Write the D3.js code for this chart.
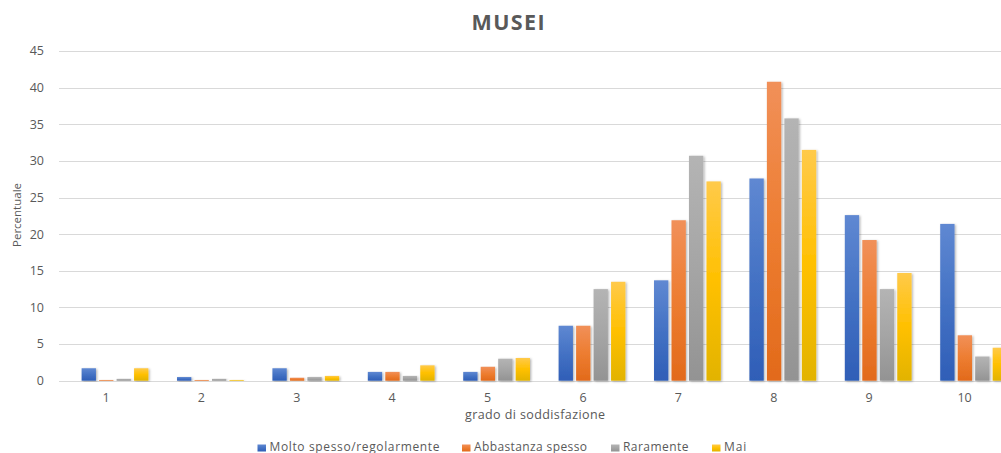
<!DOCTYPE html>
<html><head><meta charset="utf-8">
<script src="https://cdn.jsdelivr.net/npm/d3@7"></script>
<style>body{margin:0;background:#fff;} svg{display:block;font-family:"Open Sans","Liberation Sans",sans-serif;}</style>
</head><body>
<svg id="c" width="1001" height="453"></svg>
<script>
const categories = ["1","2","3","4","5","6","7","8","9","10"];
const seriesNames = ["Molto spesso/regolarmente","Abbastanza spesso","Raramente","Mai"];
const molto = [1.7, 0.5, 1.7, 1.2, 1.2, 7.5, 13.7, 27.6, 22.6, 21.4];
const abbastanza = [0.1, 0.1, 0.4, 1.2, 1.9, 7.5, 21.9, 40.8, 19.2, 6.2];
const raramente = [0.25, 0.25, 0.5, 0.65, 3.0, 12.5, 30.7, 35.8, 12.5, 3.3];
const mai = [1.7, 0.1, 0.65, 2.1, 3.1, 13.5, 27.2, 31.5, 14.7, 4.5];
const yTicks = [0,5,10,15,20,25,30,35,40,45];
const seriesValues = [molto, abbastanza, raramente, mai];
const colors = ["#4472C4","#ED7D31","#A5A5A5","#FFC000"];
const topCols = ["#5f88d2","#f19059","#b4b4b4","#ffca4a"];
const botCols = ["#2f5eb7","#e26a1b","#939393","#e2b300"];

const svg = d3.select("#c");
const defs = svg.append("defs");
colors.forEach((c,i)=>{
  const g = defs.append("linearGradient").attr("id","g"+i).attr("x1",0).attr("y1",0).attr("x2",0).attr("y2",1);
  g.append("stop").attr("offset","0%").attr("stop-color",topCols[i]);
  g.append("stop").attr("offset","50%").attr("stop-color",c);
  g.append("stop").attr("offset","100%").attr("stop-color",botCols[i]);
});
const f = defs.append("filter").attr("id","sh").attr("x","-20%").attr("y","-5%").attr("width","150%").attr("height","115%");
f.append("feDropShadow").attr("dx",1.2).attr("dy",0.8).attr("stdDeviation",0.8).attr("flood-color","#000").attr("flood-opacity",0.3);

const y = d3.scaleLinear().domain([0,45]).range([380.7,51]);
const x = d3.scaleBand().domain(categories).range([58.3,1012.3]).paddingInner(0.3).paddingOuter(0.15);
const x1 = d3.scaleBand().domain(seriesNames).range([0,x.bandwidth()]).paddingInner(0.18);
const barShift = 9;

// gridlines
svg.append("g").selectAll("line").data(yTicks).join("line")
  .attr("x1",59).attr("x2",1001).attr("y1",d=>Math.round(y(d))+0.5).attr("y2",d=>Math.round(y(d))+0.5)
  .attr("stroke","#d9d9d9").attr("stroke-width",1);

// y tick labels
svg.append("g").selectAll("text").data(yTicks).join("text")
  .attr("x",44).attr("y",d=>y(d)).attr("dy","0.35em").attr("text-anchor","end")
  .attr("font-size",12.5).attr("fill","#595959").text(d=>d);

// bars
const gb = svg.append("g");
seriesValues.forEach((vals,si)=>{
  gb.append("g").selectAll("rect").data(vals.map((v,i)=>({c:categories[i],v}))).join("rect")
    .attr("x",d=>x(d.c)+barShift+x1(seriesNames[si]))
    .attr("y",d=>y(d.v))
    .attr("width",x1.bandwidth())
    .attr("height",d=>y(0)-y(d.v))
    .attr("fill","url(#g"+si+")")
    .attr("filter","url(#sh)");
});

// x labels
svg.append("g").selectAll("text").data(categories).join("text")
  .attr("x",d=>x(d)+x.bandwidth()/2).attr("y",402).attr("text-anchor","middle")
  .attr("font-size",12.5).attr("fill","#595959").text(d=>d);

// titles
svg.append("text").attr("x",508).attr("y",29.5).attr("text-anchor","middle")
  .attr("font-size",21.5).attr("font-weight","bold").attr("fill","#595959")
  .attr("textLength",73).attr("lengthAdjust","spacing").text("MUSEI");
svg.append("text").attr("x",535).attr("y",419).attr("text-anchor","middle")
  .attr("font-size",12.5).attr("fill","#595959")
  .attr("textLength",140).attr("lengthAdjust","spacing").text("grado di soddisfazione");
svg.append("text").attr("transform","translate(21,215) rotate(-90)").attr("text-anchor","middle")
  .attr("font-size",11.5).attr("fill","#595959").text("Percentuale");

// legend
const legX = [257.5, 462, 611, 712];
const legW = [170, 113, 65.5, 22.3];
const lg = svg.append("g");
seriesNames.forEach((n,i)=>{
  lg.append("rect").attr("x",legX[i]).attr("y",444.5).attr("width",8.5).attr("height",7).attr("fill","url(#g"+i+")");
  lg.append("text").attr("x",legX[i]+12).attr("y",450.5).attr("font-size",12).attr("fill","#595959")
    .attr("textLength",legW[i]).attr("lengthAdjust","spacing").text(n);
});
</script>
</body></html>
